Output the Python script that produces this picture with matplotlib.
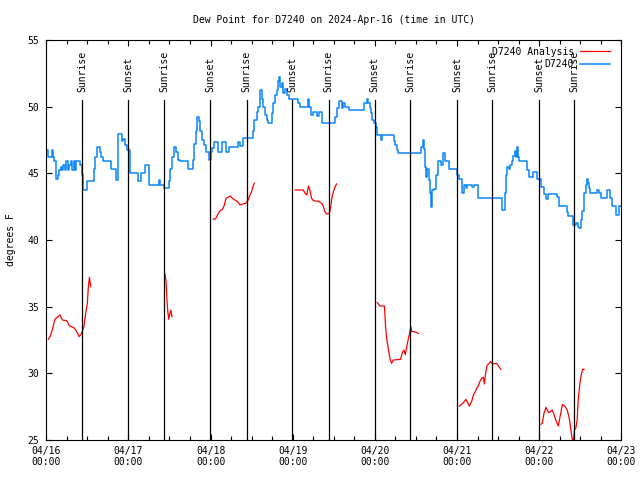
import numpy as np
import matplotlib
matplotlib.use('Agg')
import matplotlib.pyplot as plt
import matplotlib.dates as mdates

START = np.datetime64('2024-04-16T00:00')

# D7240 observations: hours after 04/16 00:00 UTC, dew point (F)
obs_hours = [0.0, 0.5, 1.8, 2.0, 2.3, 2.7, 3.3, 3.7, 4.2, 4.6, 5.0, 5.4, 5.9, 6.3, 6.7, 7.1,
             7.5, 8.0, 8.3, 8.6, 9.8, 10.3, 10.6, 12.0, 13.9, 14.3, 14.7, 15.6, 16.0, 16.5,
             18.8, 20.4, 20.9, 22.0, 22.4, 23.0, 23.7, 24.5, 26.8, 27.6, 28.9, 30.1, 32.8,
             33.3, 34.5, 35.8, 36.2, 36.8, 37.4, 37.9, 38.5, 39.2, 41.4, 42.9, 43.3, 43.7,
             44.0, 44.6, 45.0, 45.5, 46.0, 46.8, 47.6, 48.0, 48.5, 49.0, 50.3, 51.4, 52.6,
             53.3, 56.0, 56.6, 57.6, 60.3, 60.8, 61.5, 62.0, 62.5, 62.9, 63.3, 63.8, 64.5,
             64.9, 66.0, 66.3, 66.8, 67.3, 67.8, 68.0, 68.3, 68.8, 69.2, 69.7, 70.3, 71.0,
             73.6, 74.1, 76.6, 76.8, 77.2, 77.8, 79.2, 79.8, 80.7, 84.4, 84.9, 85.4, 86.5,
             86.8, 87.4, 88.4, 92.8, 93.7, 94.0, 94.5, 95.0, 95.3, 95.7, 96.2, 96.7, 97.9,
             98.2, 101.6, 101.9, 102.4, 102.8, 109.6, 110.0, 110.3, 110.7, 111.0, 111.3,
             111.7, 112.0, 112.5, 112.8, 113.4, 113.9, 114.3, 115.3, 115.8, 116.6, 117.8,
             119.9, 120.5, 121.5, 121.9, 122.6, 123.0, 124.5, 125.0, 126.2, 133.0, 133.9,
             134.2, 134.5, 135.2, 135.6, 136.0, 136.4, 136.8, 137.3, 137.5, 137.8, 138.2,
             140.5, 141.0, 142.2, 143.5, 144.4, 145.4, 146.0, 146.6, 149.3, 149.8, 152.0,
             152.5, 154.0, 154.9, 155.3, 155.6, 156.1, 156.6, 157.1, 157.6, 157.9, 158.3,
             158.6, 158.9, 161.0, 161.6, 162.0, 163.7, 164.7, 165.4, 166.5, 167.4, 168.0]
obs_dewpt = [46.75, 46.2, 46.75, 46.2, 45.9, 44.6, 44.9, 45.25, 45.5, 45.25, 45.6, 45.25, 45.9,
             45.25, 45.6, 45.9, 45.25, 45.9, 45.25, 45.9, 45.6, 44.9, 43.75, 44.4, 45.3, 46.2,
             47.0, 46.6, 46.2, 45.9, 45.3, 44.5, 47.95, 47.4, 47.6, 47.1, 46.75, 45.05, 44.4,
             45.05, 45.63, 44.13, 44.5, 44.1, 43.9, 44.4, 45.3, 46.2, 47.0, 46.6, 46.0, 45.9,
             45.3, 46.0, 47.2, 48.2, 49.2, 48.9, 48.2, 47.5, 47.1, 46.6, 46.0, 46.6, 46.9,
             47.37, 46.6, 47.37, 46.6, 47.0, 47.37, 47.05, 47.63, 48.2, 49.0, 49.6, 50.0,
             51.25, 50.6, 50.0, 49.4, 49.0, 48.75, 49.5, 50.25, 50.9, 51.25, 51.9, 52.25,
             51.5, 51.75, 51.0, 51.3, 50.9, 50.6, 50.25, 50.0, 50.6, 50.0, 49.4, 49.63, 49.3,
             49.63, 48.75, 49.2, 49.9, 50.4, 49.9, 50.25, 50.0, 49.75, 50.25, 50.6, 50.3,
             49.9, 49.5, 49.0, 48.75, 48.5, 47.9, 47.5, 47.9, 47.4, 47.1, 46.75, 46.5, 47.0,
             47.5, 46.8, 45.5, 44.75, 45.3, 44.5, 43.5, 42.5, 43.75, 43.8, 44.9, 45.9, 45.6,
             46.5, 45.9, 45.3, 44.9, 44.6, 43.5, 44.13, 43.9, 44.13, 44.0, 44.13, 43.13,
             42.25, 43.5, 44.9, 45.5, 45.3, 45.6, 45.9, 46.3, 46.7, 46.2, 47.0, 46.2, 45.9,
             45.25, 44.75, 45.1, 44.6, 44.0, 43.45, 43.1, 43.45, 43.2, 42.55, 42.1, 41.8,
             41.1, 41.3, 41.0, 40.9, 41.5, 42.2, 43.5, 44.1, 44.6, 44.3, 43.9, 43.5, 43.75,
             43.5, 43.13, 43.75, 43.13, 42.55, 41.9, 42.55, 42.55]

# D7240 Analysis, NaN marks the gaps between runs
anl_hours = [0.6, 1.2, 1.9, 2.5, 3.2, 4.0, 4.7, 6.0, 6.7, 7.4, 8.2, 8.9, 9.6, 10.1, 10.6, 11.0,
             11.5, 12.0, 12.3, 12.6, 12.8, 13.0, 20.0,
             34.7, 35.0, 35.2, 35.5, 35.8, 36.1, 36.4, 36.7, 40.0,
             48.8, 49.5, 50.3, 50.8, 51.5, 52.0, 52.5, 53.1, 53.7, 54.4, 55.1, 55.8, 56.6,
             57.5, 58.3, 59.0, 59.5, 60.0, 60.5, 60.8, 65.0,
             72.7, 75.1, 75.6, 76.1, 76.6, 77.0, 77.5, 78.0, 79.5, 80.5, 81.0, 81.4, 81.9,
             82.7, 83.1, 83.5, 83.9, 84.4, 84.8, 90.0,
             96.7, 97.5, 98.8, 99.1, 99.5, 99.9, 100.4, 100.9, 101.4, 103.5, 104.1, 104.5,
             104.9, 105.3, 105.7, 106.1, 106.5, 106.8, 107.5, 108.7, 115.0,
             120.7, 121.7, 122.6, 123.6, 124.3, 124.8, 125.3, 125.8, 126.2, 126.7, 127.2,
             127.7, 128.0, 128.3, 128.7, 129.2, 129.8, 130.4, 131.6, 132.1, 132.8, 138.0,
             144.5, 144.9, 145.4, 146.0, 146.7, 147.2, 147.8, 148.3, 148.9, 149.6, 150.1,
             150.8, 151.6, 152.2, 152.8, 153.2, 153.6, 154.0, 154.3, 154.7, 155.1, 155.4,
             155.9, 156.3, 156.7, 157.1]
anl_dewpt = [32.55, 32.8, 33.4, 34.05, 34.2, 34.38, 34.0, 33.95, 33.58, 33.5, 33.4, 33.13, 32.75,
             32.9, 33.2, 33.5, 34.5, 35.25, 36.5, 37.2, 36.8, 36.5, np.nan,
             37.45, 36.88, 35.75, 34.63, 34.05, 34.5, 34.75, 34.25, np.nan,
             41.55, 41.6, 42.0, 42.2, 42.3, 42.6, 43.13, 43.2, 43.3, 43.13, 43.0, 42.9, 42.63,
             42.7, 42.75, 43.0, 43.38, 43.63, 44.1, 44.25, np.nan,
             43.75, 43.75, 43.5, 43.38, 44.05, 43.75, 43.13, 42.95, 42.9, 42.75, 42.5, 42.13,
             41.95, 42.0, 42.5, 43.25, 43.63, 44.0, 44.2, np.nan,
             35.3, 35.05, 35.05, 33.6, 32.5, 31.9, 31.1, 30.75, 31.0, 31.05, 31.6, 31.75,
             31.4, 32.0, 32.5, 32.95, 33.5, 33.13, 33.13, 33.0, np.nan,
             27.55, 27.75, 28.05, 27.55, 27.9, 28.4, 28.6, 28.9, 29.05, 29.4, 29.63, 29.7,
             29.2, 29.9, 30.55, 30.7, 30.88, 30.7, 30.75, 30.55, 30.3, np.nan,
             26.18, 26.25, 27.0, 27.45, 27.05, 27.1, 27.25, 26.95, 26.45, 26.05, 26.75, 27.68,
             27.5, 27.25, 26.63, 25.88, 25.13, 24.9, 25.75, 25.88, 26.5, 28.0, 29.25, 29.88,
             30.3, 30.3]

sunrise_hours = [10.5, 34.5, 58.5, 82.5, 106.4, 130.3, 154.3]
sunset_hours = [24.0, 47.95, 71.9, 96.0, 120.0, 144.0]


def to_time(hours):
    return START + (np.array(hours) * 60).round().astype(int).astype('timedelta64[m]')


FONT = 'DejaVu Sans Mono'
FS = 7
plt.rcParams['font.family'] = FONT
plt.rcParams['font.size'] = FS

fig = plt.figure(figsize=(6.4, 4.8), dpi=100)
ax = fig.add_axes([0.0723, 0.0833, 0.8985, 0.8334])

ax.plot(to_time(anl_hours), anl_dewpt, color='#ff0000', lw=0.9, label='D7240 Analysis')
ax.plot(to_time(obs_hours), obs_dewpt, color='#0c86ff', lw=1.1, drawstyle='steps-post',
        label='D7240')

for h in sunrise_hours:
    ax.axvline(to_time([h])[0], ymin=0, ymax=0.85, color='black', lw=0.9)
    ax.text(to_time([h])[0], 0.87, 'Sunrise', rotation=90, ha='center', va='bottom',
            transform=ax.get_xaxis_transform())
for h in sunset_hours:
    ax.axvline(to_time([h])[0], ymin=0, ymax=0.85, color='black', lw=0.9)
    ax.text(to_time([h])[0], 0.87, 'Sunset', rotation=90, ha='center', va='bottom',
            transform=ax.get_xaxis_transform())

ax.set_xlim(to_time([0])[0], to_time([168])[0])
ax.set_ylim(25, 55)
ax.set_yticks(np.arange(25, 56, 5))
ax.xaxis.set_major_locator(mdates.DayLocator())
ax.xaxis.set_minor_locator(mdates.HourLocator(byhour=[6, 12, 18]))
ax.xaxis.set_major_formatter(mdates.DateFormatter('%m/%d\n%H:%M'))
ax.tick_params(which='both', direction='in', top=True, right=True, colors='black')
ax.tick_params(which='major', length=4.5, width=0.8)
ax.tick_params(which='minor', length=3, width=0.8)
ax.tick_params(axis='y', pad=5)
ax.tick_params(axis='x', pad=4)
for s in ax.spines.values():
    s.set_linewidth(0.8)

ax.set_title('Dew Point for D7240 on 2024-Apr-16 (time in UTC)', pad=12, fontsize=FS)
ax.set_ylabel('degrees F')
ax.yaxis.set_label_coords(-0.052, 0.5)

ax.legend(loc='upper right', bbox_to_anchor=(0.98, 0.983), frameon=False, markerfirst=False,
          handlelength=3.1, handletextpad=0.6, labelspacing=0.22, borderpad=0,
          borderaxespad=0)

fig.savefig('out.png', dpi=100)
